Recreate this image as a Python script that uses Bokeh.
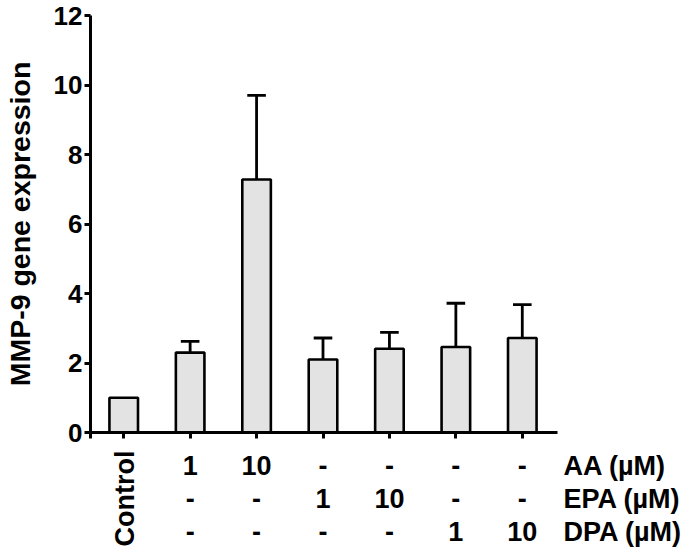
import math
from bokeh.plotting import figure
from bokeh.models import Range1d, FixedTicker, ColumnDataSource
from bokeh.layouts import column
from bokeh.embed import file_html
from bokeh.resources import INLINE
from bokeh.core.properties import value

groups = ["Control", "AA 1", "AA 10", "EPA 1", "EPA 10", "DPA 1", "DPA 10"]
means = [1.0, 2.30, 7.28, 2.10, 2.41, 2.46, 2.72]
err_tops = [1.0, 2.62, 9.70, 2.72, 2.88, 3.72, 3.68]
aa_row = ["", "1", "10", "-", "-", "-", "-"]
epa_row = ["", "-", "-", "1", "10", "-", "-"]
dpa_row = ["", "-", "-", "-", "-", "1", "10"]
row_names = ["AA (µM)", "EPA (µM)", "DPA (µM)"]
control_label = "Control"
y_ticks = [0, 2, 4, 6, 8, 10, 12]

FONT = "Liberation Sans"
TABLE_FS = "27px"

W = 685
ML, MR, MT = 90, 126, 15
H1 = 448
MB = 16
X0, X1 = -0.5, 6.53

xs = list(range(len(groups)))
xr = Range1d(X0, X1)

p = figure(width=W, height=H1, output_backend="svg", toolbar_location=None,
           x_range=xr, y_range=Range1d(0, 12),
           min_border_left=ML, min_border_right=MR, min_border_top=MT,
           min_border_bottom=MB)
p.outline_line_color = None
p.xgrid.visible = False
p.ygrid.visible = False

p.vbar(x=xs, top=means, width=0.43, bottom=0, fill_color="#e3e3e3",
       line_color="black", line_width=2.6)

ex = [x for x, m, e in zip(xs, means, err_tops) if e > m]
em = [m for m, e in zip(means, err_tops) if e > m]
ee = [e for m, e in zip(means, err_tops) if e > m]
p.segment(x0=ex, y0=em, x1=ex, y1=ee, line_color="black", line_width=2.8)
p.segment(x0=[x - 0.14 for x in ex], y0=ee, x1=[x + 0.14 for x in ex], y1=ee,
          line_color="black", line_width=2.8)

for ax in (p.xaxis[0], p.yaxis[0]):
    ax.axis_line_width = 3
    ax.major_tick_line_width = 3
    ax.major_tick_out = 6
    ax.major_tick_in = 0
    ax.minor_tick_line_color = None
    ax.major_label_text_font = FONT
    ax.major_label_text_font_style = "bold"
    ax.major_label_text_font_size = "26px"
    ax.major_label_text_color = "black"

p.yaxis.ticker = FixedTicker(ticks=y_ticks)
p.yaxis.major_label_standoff = 2
p.yaxis.axis_label = "MMP-9 gene expression"
p.yaxis.axis_label_text_font = FONT
p.yaxis.axis_label_text_font_style = "bold"
p.yaxis.axis_label_text_font_size = "28.5px"
p.yaxis.axis_label_text_color = "black"
p.yaxis.axis_label_standoff = 15

p.xaxis.ticker = FixedTicker(ticks=[X0] + xs)
p.xaxis.major_label_overrides = {t: "" for t in [X0] + xs}
p.xaxis.major_label_text_font_size = "1px"
p.xaxis.major_label_standoff = 0

# lower panel: treatment table, same horizontal scale, row names on a right axis
H2 = 553 - H1
row_px = 33.0
top_val = -17.0 / row_px
bot_val = top_val + H2 / row_px
p2 = figure(width=W, height=H2, output_backend="svg", toolbar_location=None,
            x_range=xr, y_range=Range1d(bot_val, top_val), y_axis_location="right",
            min_border_left=ML, min_border_right=MR, min_border_top=0,
            min_border_bottom=0)
p2.xaxis.visible = False
p2.grid.visible = False
p2.outline_line_color = None
ya = p2.yaxis[0]
ya.ticker = FixedTicker(ticks=[0, 1, 2])
ya.major_label_overrides = {i: n for i, n in enumerate(row_names)}
ya.axis_line_color = None
ya.major_tick_line_color = None
ya.minor_tick_line_color = None
ya.major_tick_out = 0
ya.major_tick_in = 0
ya.major_label_standoff = 6
ya.major_label_text_font = FONT
ya.major_label_text_font_style = "bold"
ya.major_label_text_font_size = TABLE_FS
ya.major_label_text_color = "black"

tx, ty, tt = [], [], []
for r, row in enumerate([aa_row, epa_row, dpa_row]):
    for x, t in zip(xs, row):
        if t:
            tx.append(x)
            ty.append(r)
            tt.append(t)
p2.text(x="x", y="y", text="t", source=ColumnDataSource(dict(x=tx, y=ty, t=tt)),
        text_align="center", text_baseline="middle", text_font=value(FONT),
        text_font_style="bold", text_font_size=TABLE_FS, text_color="black")

p2.text(x=[0.02], y=[1.0], text=[control_label], angle=math.pi / 2,
        text_align="center", text_baseline="middle", text_font=value(FONT),
        text_font_style="bold", text_font_size=TABLE_FS, text_color="black")

layout = column(p, p2, spacing=0)
open("out.html", "w").write(file_html(layout, INLINE))
